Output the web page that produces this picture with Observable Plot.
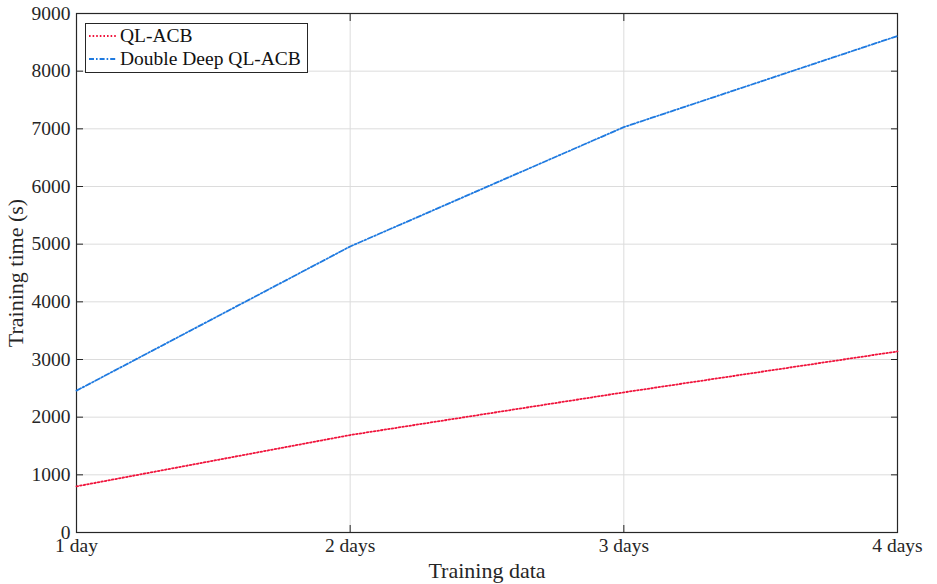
<!DOCTYPE html>
<html>
<head>
<meta charset="utf-8">
<script src="https://cdn.jsdelivr.net/npm/d3@7"></script>
<script src="https://cdn.jsdelivr.net/npm/@observablehq/plot@0.6"></script>
<style>
  body { margin: 0; background: #fff; }
  #wrap { position: relative; width: 937px; height: 584px; font-family: "Liberation Serif", "DejaVu Serif", serif; }
  #legend { position: absolute; left: 85px; top: 23px; width: 221px; height: 48px; border: 1px solid #262626; background: #fff; font-size: 19.5px; color: #111; }
  .row { position: absolute; left: 3px; height: 23px; display: flex; align-items: center; white-space: nowrap; }
  .row svg { margin-right: 3px; }
  g[aria-label="x-axis label"] text, g[aria-label="y-axis label"] text { font-size: 22px; }
</style>
</head>
<body>
<div id="wrap"></div>
<script>
const days = [1, 2, 3, 4];
const dayLabels = ["1 day", "2 days", "3 days", "4 days"];
const seriesNames = ["QL-ACB", "Double Deep QL-ACB"];
const qlAcb = [800, 1690, 2430, 3140];
const doubleDeep = [2460, 4960, 7030, 8610];
const yTicks = [0, 1000, 2000, 3000, 4000, 5000, 6000, 7000, 8000, 9000];
const colors = ["#f0143c", "#1f7ae0"];
const dashes = ["1.6,2", "5,2,1.6,2"];

const data = [];
days.forEach((d, i) => {
  data.push({day: d, value: qlAcb[i], series: seriesNames[0]});
  data.push({day: d, value: doubleDeep[i], series: seriesNames[1]});
});

const font = '"Liberation Serif", "DejaVu Serif", serif';
const blank = () => "";
const chart = Plot.plot({
  width: 937,
  height: 584,
  marginLeft: 76,
  marginRight: 40,
  marginTop: 13,
  marginBottom: 52,
  style: {fontFamily: font, fontSize: "19.5px", color: "#262626", background: "#fff"},
  x: {domain: [1, 4], ticks: days},
  y: {domain: [0, 9000], ticks: yTicks},
  marks: [
    Plot.gridX(days, {stroke: "#dcdcdc", strokeOpacity: 1}),
    Plot.gridY(yTicks, {stroke: "#dcdcdc", strokeOpacity: 1}),
    Plot.axisX(days, {anchor: "bottom", tickSize: -7, tickPadding: 13, tickFormat: (d) => dayLabels[days.indexOf(d)], label: "Training data", labelAnchor: "center", labelArrow: "none", labelOffset: 45, stroke: "#262626", color: "#262626", fontSize: 19.5}),
    Plot.axisX(days, {anchor: "top", tickSize: -7, tickFormat: blank, label: null, stroke: "#262626"}),
    Plot.axisY(yTicks, {anchor: "left", tickSize: -7, tickPadding: 13, label: "Training time (s)", labelAnchor: "center", labelArrow: "none", labelOffset: 69, stroke: "#262626", color: "#262626", fontSize: 19.5, tickFormat: (d) => String(d)}),
    Plot.axisY(yTicks, {anchor: "right", tickSize: -7, tickFormat: blank, label: null, stroke: "#262626"}),
    Plot.frame({stroke: "#262626", strokeWidth: 1.2}),
    Plot.line(data.filter(d => d.series === seriesNames[0]), {x: "day", y: "value", stroke: colors[0], strokeWidth: 1.8, strokeDasharray: dashes[0]}),
    Plot.line(data.filter(d => d.series === seriesNames[1]), {x: "day", y: "value", stroke: colors[1], strokeWidth: 1.8, strokeDasharray: dashes[1]})
  ]
});

const wrap = document.getElementById("wrap");
wrap.appendChild(chart);

const legend = document.createElement("div");
legend.id = "legend";
seriesNames.forEach((name, i) => {
  const row = document.createElement("div");
  row.className = "row";
  row.style.top = (i * 23) + "px";
  row.innerHTML = `<svg width="28" height="10"><line x1="0" y1="5" x2="28" y2="5" stroke="${colors[i]}" stroke-width="1.8" stroke-dasharray="${dashes[i]}"/></svg><span>${name}</span>`;
  legend.appendChild(row);
});
wrap.appendChild(legend);
</script>
</body>
</html>
